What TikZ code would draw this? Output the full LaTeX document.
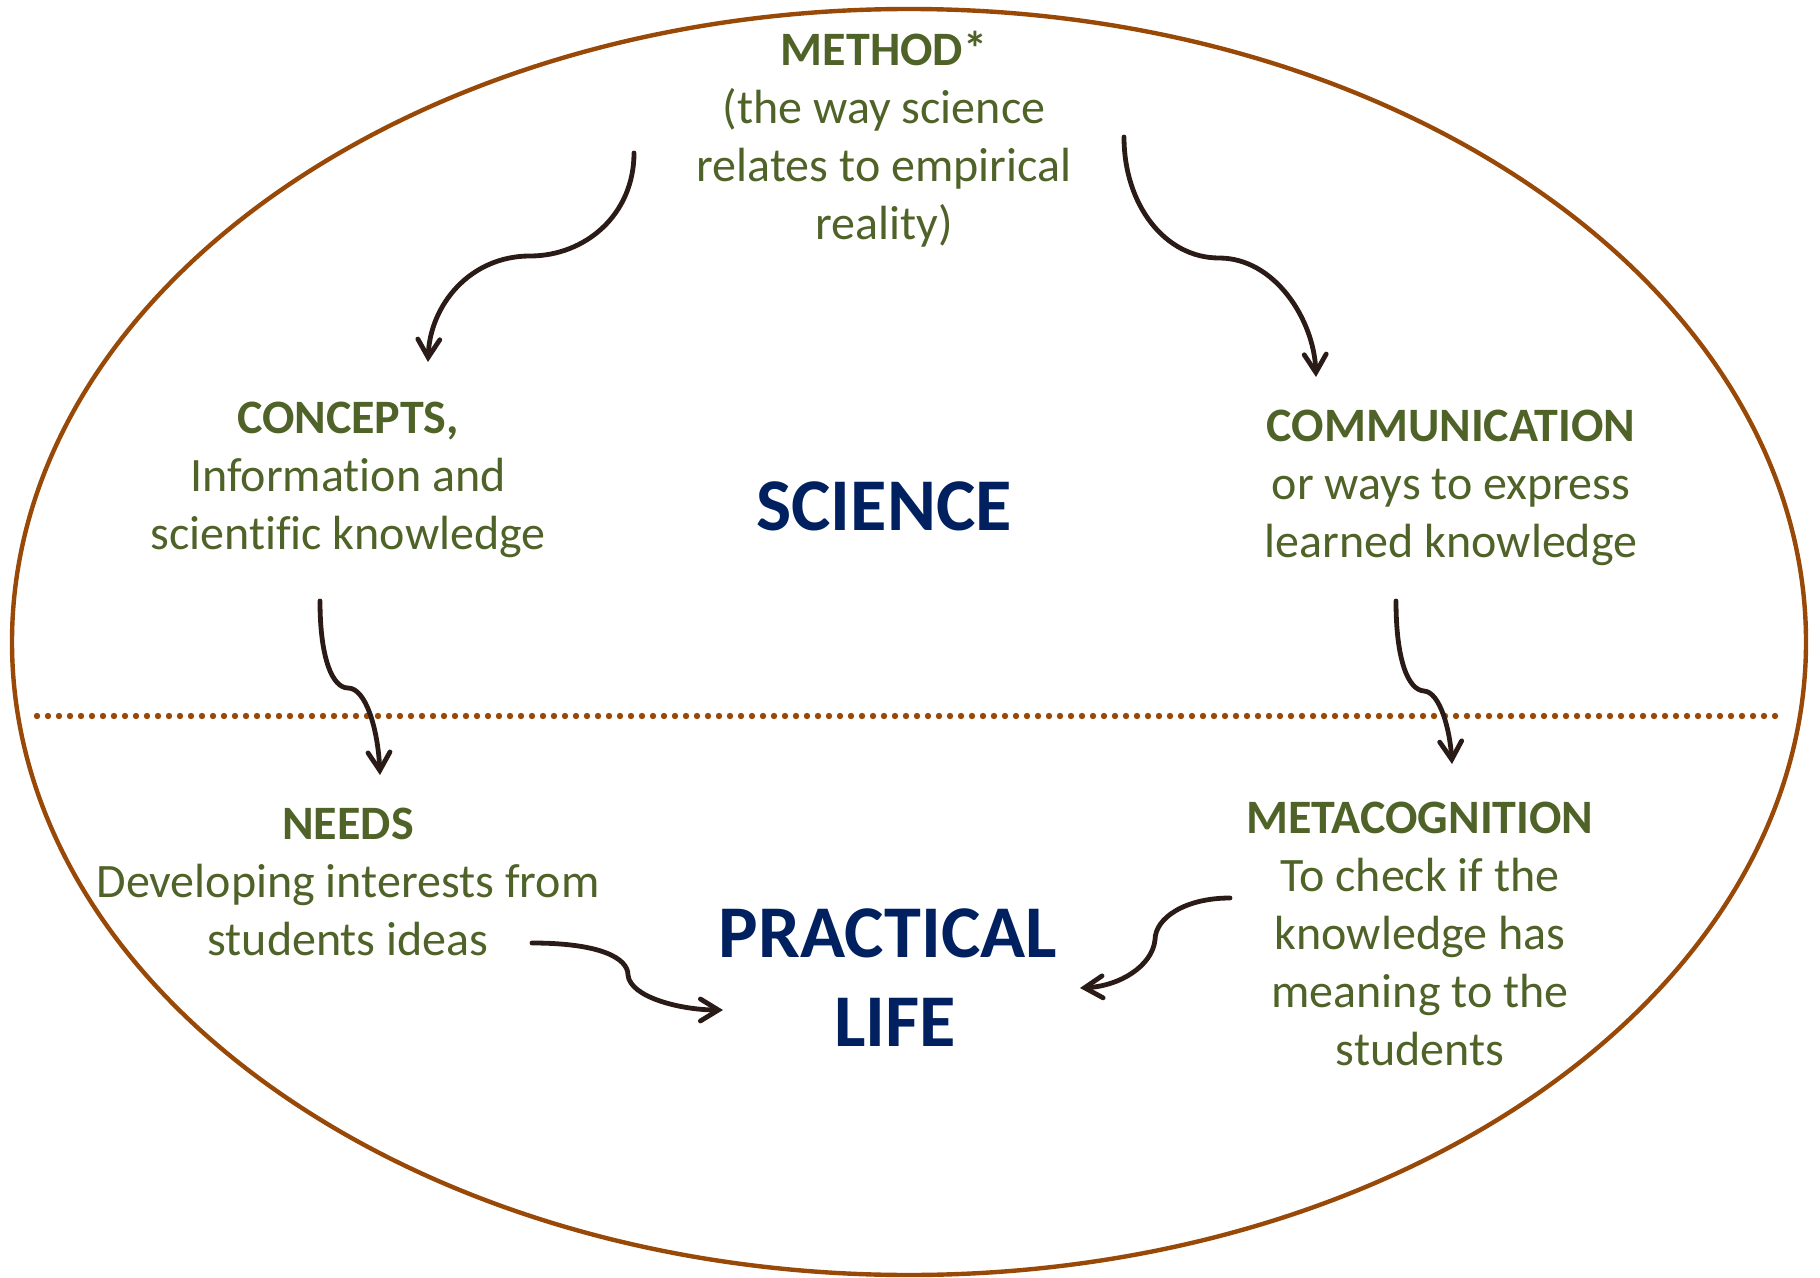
\documentclass[tikz,border=0pt]{standalone}
\usepackage{fontspec}
\setmainfont{Carlito}[Ligatures={NoCommon,NoContextual}]
\usetikzlibrary{arrows.meta}
\definecolor{olive}{HTML}{4F6228}
\definecolor{navy}{HTML}{002060}
\definecolor{rim}{HTML}{984807}
\definecolor{arr}{HTML}{2B1B17}
\tikzset{
  txt/.style={text=olive, align=center, inner sep=0pt, font=\fontsize{24}{29}\selectfont},
  big/.style={text=navy, align=center, inner sep=0pt, font=\fontsize{37.2}{44.5}\selectfont\bfseries},
  conn/.style={draw=arr, line width=2.4pt, -{Straight Barb[length=9pt,width=11pt,line cap=round]}, line cap=round}
}
\begin{document}
\begin{tikzpicture}[x=0.5pt,y=-0.5pt]
\useasboundingbox (0,0) rectangle (1820,1278);
% ellipse and divider
\draw[rim, line width=2.2pt] (909,642) ellipse [x radius=448.5pt, y radius=316.5pt];
\draw[rim, line width=3.2pt, line cap=round, dash pattern=on 0pt off 5.5pt] (37,716) -- (1785,716);
% texts
\node[txt] (method) at (884,139) {\textbf{METHOD*}\\(the way science\\relates to empirical\\reality)};
\node[txt] (concepts) at (348,480) {\textbf{CONCEPTS,}\\Information and\\scientific knowledge};
\node[big] (science) at (884,506) {SCIENCE};
\node[txt] (comm) at (1451,488) {\textbf{COMMUNICATION}\\or ways to express\\learned knowledge};
\node[txt] (needs) at (348,882) {\textbf{NEEDS}\\Developing interests from\\students ideas};
\node[big] (life) at (888,978) {PRACTICAL\\\hspace*{7pt}LIFE};
\node[txt] (meta) at (1420,934) {\textbf{METACOGNITION}\\To check if the\\knowledge has\\meaning to the\\students};
% connector ends
\coordinate (m1) at (634,153);
\coordinate (c1) at (428,362);
\coordinate (m2) at (1124,137);
\coordinate (k1) at (1316,377);
\coordinate (c2) at (320,601);
\coordinate (n1) at (380,775);
\coordinate (k2) at (1396,601);
\coordinate (t1) at (1452,764);
\coordinate (n2) at (532,943);
\coordinate (l1) at (723,1010);
\coordinate (t2) at (1230,898);
\coordinate (l2) at (1080,988);
% connectors
\draw[conn] (m1) .. controls (634,215) and (585,256) .. (530,256) .. controls (470,256) and (430,305) .. (c1);
\draw[conn] (m2) .. controls (1124,205) and (1165,258) .. (1219,258) .. controls (1275,258) and (1314,320) .. (k1);
\draw[conn] (c2) .. controls (320,660) and (333,688) .. (348,688) .. controls (366,688) and (378,730) .. (n1);
\draw[conn] (k2) .. controls (1396,660) and (1408,690) .. (1424,691) .. controls (1440,692) and (1450,730) .. (t1);
\draw[conn] (n2) .. controls (600,943) and (628,958) .. (628,975) .. controls (630,997) and (680,1010) .. (l1);
\draw[conn] (t2) .. controls (1185,898) and (1155,918) .. (1155,940) .. controls (1152,966) and (1120,986) .. (l2);
\end{tikzpicture}
\end{document}
